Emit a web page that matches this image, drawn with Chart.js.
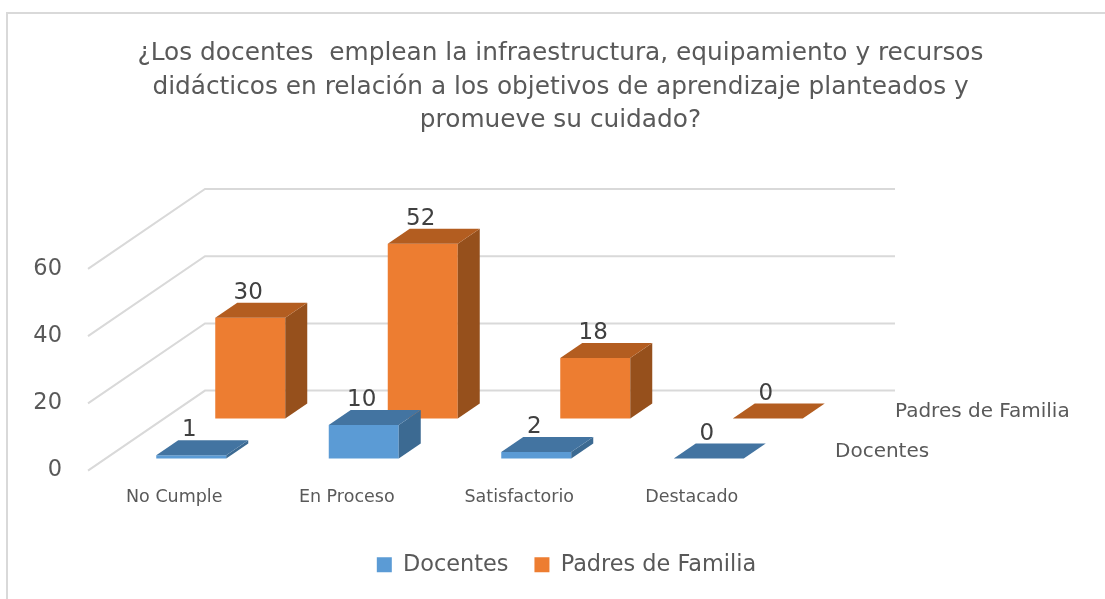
<!DOCTYPE html>
<html>
<head>
<meta charset="utf-8">
<script src="https://cdn.jsdelivr.net/npm/chart.js@4/dist/chart.umd.min.js"></script>
<style>
  html, body { margin: 0; background: #fff; }
  canvas { display: block; }
</style>
</head>
<body>
<canvas id="chart" width="1105" height="599"></canvas>
<script>
const titulo = [
  "¿Los docentes  emplean la infraestructura, equipamiento y recursos",
  "didácticos en relación a los objetivos de aprendizaje planteados y",
  "promueve su cuidado?"
];
const categorias = ["No Cumple", "En Proceso", "Satisfactorio", "Destacado"];
const docentes = [1, 10, 2, 0];
const padres = [30, 52, 18, 0];
const ticksY = [0, 20, 40, 60];

const FONT = "'DejaVu Sans'";
const GRIS = "#595959";

// how far each row sits behind the front plane of the floor
const filas = [
  { dx: 17, dy: -12, top: "#4374A1", side: "#3C6A92", label: "Docentes", labelX: 835 },
  { dx: 76, dy: -52, top: "#B35D20", side: "#96501C", label: "Padres de Familia", labelX: 895 }
];
const PARED = { dx: 117, dy: -80 };
const FONDO = { dx: 22, dy: -15 };

function poly(ctx, color, pts) {
  ctx.fillStyle = color;
  ctx.beginPath();
  pts.forEach((p, i) => (i ? ctx.lineTo(p[0], p[1]) : ctx.moveTo(p[0], p[1])));
  ctx.closePath();
  ctx.fill();
}

const barras3d = {
  id: "barras3d",
  afterLayout(chart) {
    // la leyenda va un poco a la derecha del centro
    chart.legend.left += 6;
    chart.legend.right += 6;
  },
  beforeDraw(chart) {
    // marco de la imagen
    const ctx = chart.ctx;
    ctx.save();
    ctx.fillStyle = "#D9D9D9";
    ctx.fillRect(6, 12, 1099, 2);
    ctx.fillRect(6, 12, 2, 587);
    ctx.restore();
  },
  beforeDatasetsDraw(chart) {
    const ctx = chart.ctx;
    const { left, right } = chart.chartArea;
    const y = chart.scales.y;
    ctx.save();

    // rejilla: piso/lateral y pared del fondo
    ctx.strokeStyle = "#D9D9D9";
    ctx.lineWidth = 2;
    ticksY.forEach(v => {
      const py = y.getPixelForValue(v);
      ctx.beginPath();
      ctx.moveTo(left, py);
      ctx.lineTo(left + PARED.dx, py + PARED.dy);
      ctx.lineTo(right + PARED.dx, py + PARED.dy);
      ctx.stroke();
    });

    // primero la fila de atras
    for (let d = chart.data.datasets.length - 1; d >= 0; d--) {
      const fila = filas[d];
      const color = chart.data.datasets[d].backgroundColor;
      chart.getDatasetMeta(d).data.forEach(bar => {
        const x0 = bar.x - bar.width / 2 + fila.dx;
        const x1 = bar.x + bar.width / 2 + fila.dx;
        const yt = bar.y + fila.dy;
        const yb = bar.base + fila.dy;
        poly(ctx, color, [[x0, yt], [x1, yt], [x1, yb], [x0, yb]]);
        poly(ctx, fila.side, [[x1, yt], [x1 + FONDO.dx, yt + FONDO.dy], [x1 + FONDO.dx, yb + FONDO.dy], [x1, yb]]);
        poly(ctx, fila.top, [[x0, yt], [x0 + FONDO.dx, yt + FONDO.dy], [x1 + FONDO.dx, yt + FONDO.dy], [x1, yt]]);
      });
    }

    // valores y nombres de las series
    ctx.textAlign = "center";
    ctx.textBaseline = "alphabetic";
    ctx.font = "23px " + FONT;
    ctx.fillStyle = "#404040";
    chart.data.datasets.forEach((ds, d) => {
      chart.getDatasetMeta(d).data.forEach((bar, i) => {
        ctx.fillText(ds.data[i], bar.x + filas[d].dx - 2, bar.y + filas[d].dy + FONDO.dy - 4);
      });
    });
    ctx.textAlign = "left";
    ctx.textBaseline = "middle";
    ctx.font = "20px " + FONT;
    ctx.fillStyle = GRIS;
    filas.forEach(f => {
      ctx.fillText(f.label, f.labelX, y.getPixelForValue(0) + f.dy - 7);
    });

    ctx.restore();
    return false;
  }
};

new Chart(document.getElementById("chart"), {
  type: "bar",
  data: {
    labels: categorias,
    datasets: [
      { label: "Docentes", data: docentes, backgroundColor: "#5B9BD5", grouped: false, barThickness: 70 },
      { label: "Padres de Familia", data: padres, backgroundColor: "#ED7D31", grouped: false, barThickness: 70 }
    ]
  },
  plugins: [barras3d],
  options: {
    responsive: false,
    animation: false,
    layout: { padding: { left: 16, bottom: 13 } },
    plugins: {
      title: {
        display: true,
        text: titulo,
        color: GRIS,
        font: { family: FONT, size: 24.8, weight: "normal", lineHeight: 1.35 },
        padding: { top: 37, bottom: 131.5 }
      },
      legend: {
        position: "bottom",
        labels: { color: GRIS, font: { family: FONT, size: 22.4 }, boxWidth: 15, boxHeight: 15, padding: 26 }
      },
      tooltip: { enabled: false }
    },
    scales: {
      x: {
        grid: { display: false },
        border: { display: false },
        ticks: { color: GRIS, font: { family: FONT, size: 17.5 }, padding: 8, maxRotation: 0 },
        afterFit: s => { s.height = 57; }
      },
      y: {
        min: 0,
        max: 60,
        grid: { display: false },
        border: { display: false },
        ticks: { stepSize: 20, color: GRIS, font: { family: FONT, size: 22.5 }, padding: 18 },
        afterFit: s => { s.width = 72; }
      },
      // reserva el espacio donde van los nombres de las series
      fondo: {
        type: "linear",
        position: "right",
        grid: { display: false },
        border: { display: false },
        ticks: { display: false },
        afterFit: s => { s.width = 327; }
      }
    }
  }
});
</script>
</body>
</html>
